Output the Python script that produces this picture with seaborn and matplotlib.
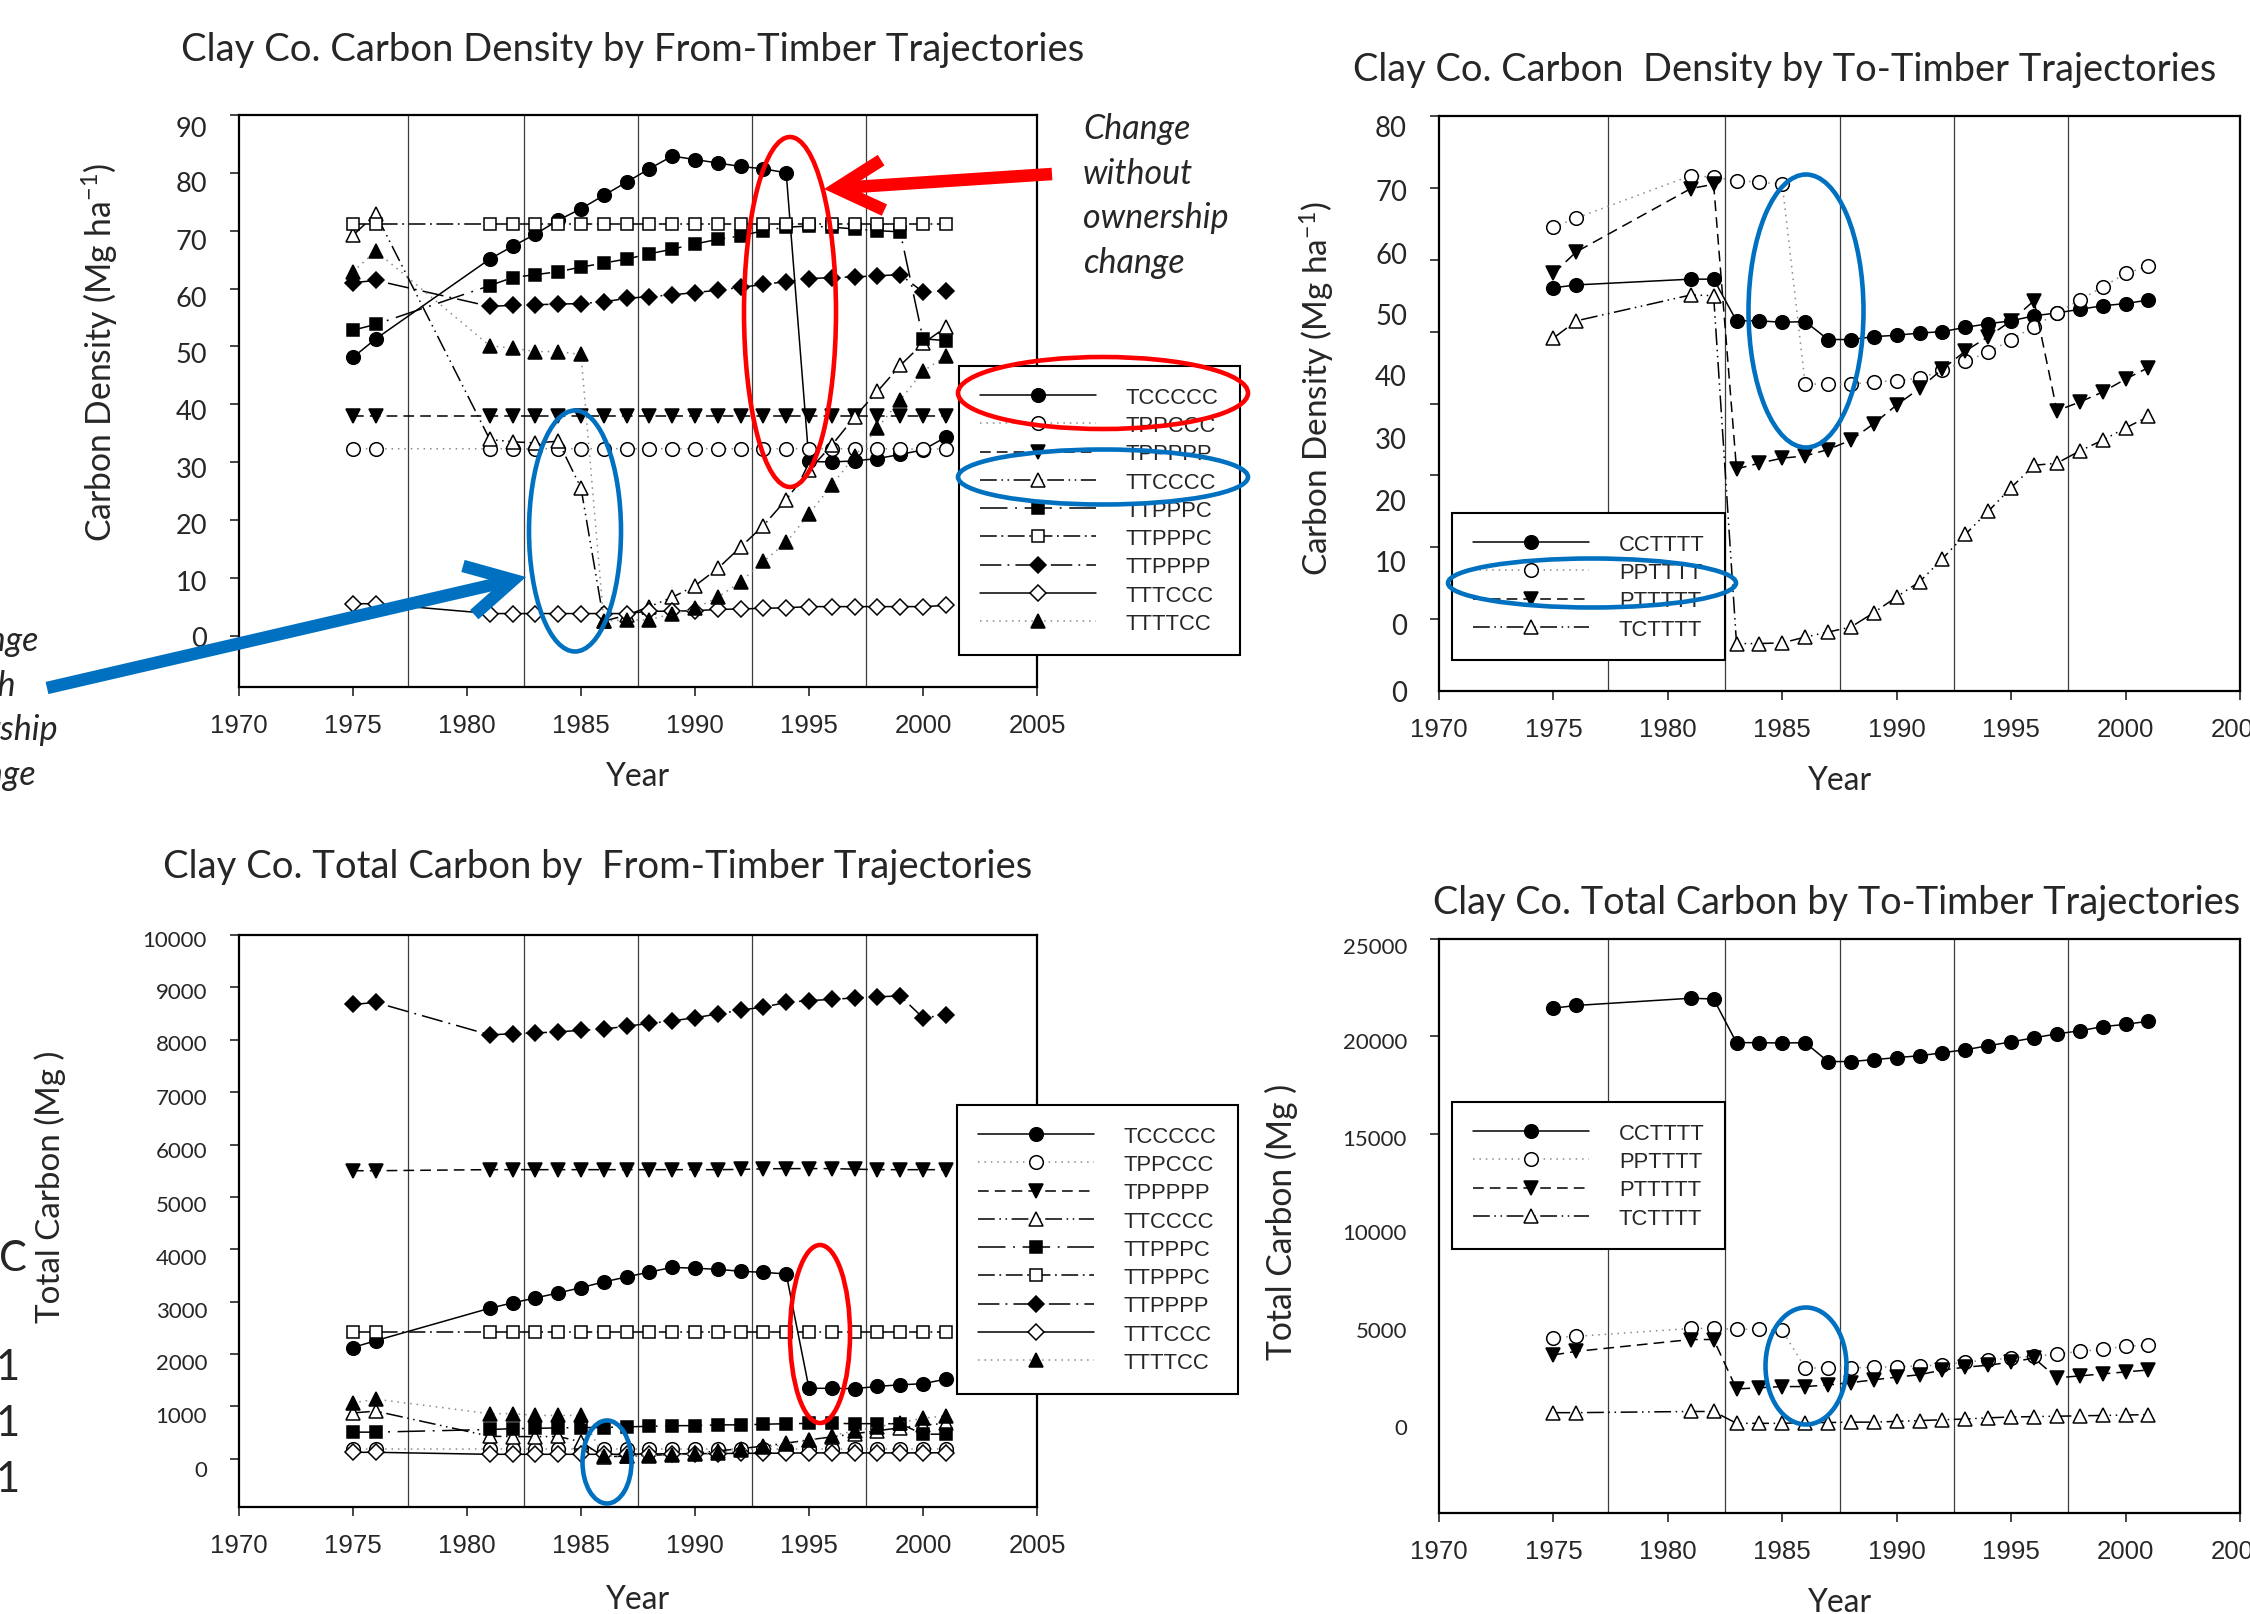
#!/usr/bin/env python3
"""Clay Co. carbon density and total carbon by timber trajectory (four panels)."""

import matplotlib
matplotlib.use("Agg")
import matplotlib.pyplot as plt
from matplotlib.patches import ArrowStyle, Ellipse, FancyArrowPatch
import seaborn as sns


W, H, DPI = 2250, 1615, 100

YEARS = [1975, 1976, 1981, 1982, 1983, 1984, 1985, 1986, 1987, 1988, 1989, 1990,
         1991, 1992, 1993, 1994, 1995, 1996, 1997, 1998, 1999, 2000, 2001]

# ---- from-timber trajectories: carbon density (Mg/ha) ----
FROM_LABELS = ["TCCCCC", "TPPCCC", "TPPPPP", "TTCCCC", "TTPPPC", "TTPPPC",
               "TTPPPP", "TTTCCC", "TTTTCC"]
TCCCCC_DENSITY = [48.1, 51.3, 65.1, 67.3, 69.4, 71.8, 73.8, 76.1, 78.4, 80.7, 82.9, 82.3,
                  81.7, 81.1, 80.7, 80.0, 30.1, 30.0, 30.2, 30.6, 31.3, 32.1, 34.3]
TPPCCC_DENSITY = [32.3, 32.3, 32.3, 32.3, 32.3, 32.3, 32.3, 32.3, 32.3, 32.3, 32.3, 32.3,
                  32.3, 32.3, 32.3, 32.3, 32.3, 32.3, 32.3, 32.3, 32.3, 32.2, 32.3]
TPPPPP_DENSITY = [38.0, 38.0, 38.0, 38.0, 38.0, 38.0, 38.0, 38.0, 38.0, 38.0, 38.0, 38.0,
                  38.0, 38.0, 38.0, 38.0, 38.0, 38.0, 38.0, 38.0, 38.0, 38.0, 38.0]
TTCCCC_DENSITY = [69.2, 72.9, 33.9, 33.5, 33.3, 33.6, 25.5, 2.5, 3.5, 5.0, 6.6, 8.6,
                  11.6, 15.3, 19.0, 23.5, 28.6, 32.9, 37.8, 42.2, 46.7, 50.5, 53.3]
TTPPPC_F_DENSITY = [52.8, 53.8, 60.5, 61.9, 62.4, 62.9, 63.7, 64.4, 65.1, 66.0, 66.8, 67.7,
                    68.5, 69.1, 70.0, 70.6, 70.8, 70.6, 70.3, 70.0, 69.8, 51.3, 51.0]
TTPPPC_O_DENSITY = [71.1, 71.1, 71.1, 71.1, 71.1, 71.1, 71.1, 71.1, 71.1, 71.1, 71.1, 71.1,
                    71.1, 71.1, 71.1, 71.1, 71.1, 71.1, 71.1, 71.1, 71.1, 71.1, 71.1]
TTPPPP_DENSITY = [61.0, 61.4, 56.9, 57.1, 57.2, 57.3, 57.4, 57.7, 58.3, 58.6, 58.9, 59.3,
                  59.7, 60.2, 60.7, 61.2, 61.7, 61.9, 62.0, 62.2, 62.4, 59.4, 59.6]
TTTCCC_DENSITY = [5.5, 5.5, 3.8, 3.8, 3.8, 3.8, 3.8, 3.8, 3.8, 4.2, 4.2, 4.3,
                  4.5, 4.6, 4.7, 4.8, 5.0, 5.0, 5.0, 5.0, 5.0, 5.0, 5.2]
TTTTCC_DENSITY = [62.9, 66.5, 50.1, 49.7, 49.1, 49.1, 48.6, 2.5, 2.7, 2.7, 3.8, 4.7,
                  6.6, 9.3, 12.8, 16.1, 21.0, 26.0, 31.0, 35.9, 40.7, 45.7, 48.3]

# ---- to-timber trajectories: carbon density (Mg/ha) ----
TO_LABELS = ["CCTTTT", "PPTTTT", "PTTTTT", "TCTTTT"]
CCTTTT_DENSITY = [56.1, 56.5, 57.3, 57.3, 51.5, 51.5, 51.3, 51.4, 48.9, 48.9, 49.3, 49.5,
                  49.8, 50.0, 50.6, 51.1, 51.5, 52.2, 52.6, 53.1, 53.6, 53.9, 54.4]
PPTTTT_DENSITY = [64.5, 65.8, 71.7, 71.5, 71.0, 70.8, 70.5, 42.7, 42.7, 42.7, 43.0, 43.2,
                  43.5, 44.6, 45.9, 47.1, 48.9, 50.7, 52.6, 54.4, 56.2, 58.1, 59.1]
PTTTTT_DENSITY = [58.1, 61.1, 69.9, 70.5, 30.9, 31.7, 32.4, 32.7, 33.6, 34.9, 37.2, 39.8,
                  42.1, 44.8, 47.3, 49.3, 51.5, 54.3, 39.0, 40.2, 41.6, 43.4, 45.0]
TCTTTT_DENSITY = [49.1, 51.5, 55.1, 55.0, 6.6, 6.6, 6.7, 7.5, 8.2, 8.9, 10.9, 13.1,
                  15.2, 18.4, 21.8, 25.0, 28.3, 31.4, 31.7, 33.4, 34.9, 36.6, 38.2]

# ---- from-timber trajectories: total carbon (Mg) ----
TCCCCC_TOTAL = [2125, 2256, 2875, 2977, 3071, 3166, 3268, 3377, 3472, 3566, 3654, 3639,
                3617, 3581, 3559, 3530, 1346, 1346, 1339, 1383, 1412, 1434, 1521]
TPPCCC_TOTAL = [195, 195, 195, 195, 195, 195, 195, 195, 195, 195, 195, 195,
                195, 195, 195, 195, 195, 195, 195, 195, 195, 195, 195]
TPPPPP_TOTAL = [5500, 5500, 5520, 5520, 5520, 5520, 5520, 5520, 5520, 5520, 5520, 5520,
                5520, 5525, 5535, 5540, 5540, 5540, 5530, 5520, 5520, 5520, 5520]
TTCCCC_TOTAL = [876, 910, 430, 425, 423, 427, 324, 40, 50, 64, 84, 109,
                150, 195, 242, 298, 363, 418, 480, 536, 593, 641, 677]
TTPPPC_F_TOTAL = [509, 509, 560, 575, 582, 590, 597, 597, 611, 619, 633, 633,
                  648, 648, 660, 670, 675, 675, 672, 670, 670, 470, 470]
TTPPPC_O_TOTAL = [2416, 2416, 2416, 2416, 2416, 2416, 2416, 2416, 2416, 2416, 2416, 2416,
                  2416, 2416, 2416, 2416, 2416, 2416, 2416, 2416, 2416, 2416, 2416]
TTPPPP_TOTAL = [8675, 8712, 8093, 8115, 8130, 8151, 8180, 8202, 8260, 8311, 8362, 8420,
                8493, 8566, 8624, 8712, 8748, 8770, 8799, 8821, 8836, 8420, 8471]
TTTCCC_TOTAL = [124, 124, 86, 86, 86, 86, 86, 86, 86, 95, 95, 97,
                101, 104, 106, 108, 113, 113, 113, 113, 113, 113, 117]
TTTTCC_TOTAL = [1069, 1138, 862, 862, 828, 828, 828, 55, 55, 55, 80, 90,
                116, 160, 220, 275, 360, 445, 530, 610, 690, 775, 820]

# ---- to-timber trajectories: total carbon (Mg) ----
CCTTTT_TOTAL = [21450, 21590, 21960, 21920, 19680, 19680, 19660, 19680, 18710, 18710, 18810, 18910,
                19010, 19160, 19320, 19520, 19720, 19930, 20130, 20290, 20500, 20620, 20780]
PPTTTT_TOTAL = [4545, 4606, 5012, 5012, 4972, 4972, 4911, 2983, 2983, 2983, 3024, 3044,
                3084, 3145, 3287, 3389, 3490, 3592, 3693, 3835, 3937, 4099, 4140]
PTTTTT_TOTAL = [3653, 3835, 4444, 4444, 1907, 1968, 2029, 2029, 2110, 2232, 2374, 2516,
                2638, 2881, 3024, 3125, 3287, 3490, 2476, 2577, 2679, 2780, 2881]
TCTTTT_TOTAL = [690, 690, 750, 750, 142, 142, 142, 183, 183, 203, 203, 243,
                284, 325, 365, 426, 467, 487, 507, 528, 548, 568, 588]

# tick labels as printed on the slide (they sit slightly off the tick marks)
TL_TICK_LABELS = ["90", "80", "70", "60", "50", "40", "30", "20", "10", "0"]
TR_TICK_LABELS = ["80", "70", "60", "50", "40", "30", "20", "10", "0", "0"]
BL_TICK_LABELS = ["10000", "9000", "8000", "7000", "6000", "5000", "4000", "3000", "2000", "1000", "0"]
BR_TICK_LABELS = ["25000", "20000", "15000", "10000", "5000", "0"]
X_TICKS = [1970, 1975, 1980, 1985, 1990, 1995, 2000, 2005]

# layout (pixels) and per-panel axis setup
TL_LABEL_POS = [88.1, 78.6, 68.6, 58.7, 49.1, 39.1, 29.1, 19.4, 9.6, -0.1]
TR_LABEL_POS = [78.7, 69.8, 61.0, 52.5, 44.0, 35.2, 26.7, 18.2, 9.4, 0.0]
BL_LABEL_POS = [9950, 8956, 7949, 6927, 5905, 4891, 3876, 2854, 1869, 854, -167]
BR_LABEL_POS = [24700, 19840, 14860, 10000, 5000, 0]
PERIOD_BREAKS = [1977.4, 1982.5, 1987.5, 1992.5, 1997.5]

DOTS = (0, (1, 3.2))
# marker, filled, linestyle, line colour, marker size
FROM_STYLES = [
    ("o", True, "-", "black", 9.8),
    ("o", False, DOTS, "#8a8a8a", 9.8),
    ("v", True, (0, (7, 4)), "black", 10),
    ("^", False, (0, (11, 3, 1, 3, 1, 3)), "black", 10),
    ("s", True, (0, (18, 5, 1.2, 5)), "black", 9.2),
    ("s", False, (0, (11, 3, 1.2, 3)), "black", 9.2),
    ("D", True, (0, (14, 4, 1.2, 4)), "black", 7.8),
    ("D", False, "-", "black", 7.8),
    ("^", True, DOTS, "#8a8a8a", 10),
]
TO_STYLES = [
    ("o", True, "-", "black", 9.8),
    ("o", False, DOTS, "#8a8a8a", 9.8),
    ("v", True, (0, (7, 4)), "black", 10),
    ("^", False, (0, (11, 3, 1, 3, 1, 3)), "black", 10),
]

RED = "#FF0000"
BLUE = "#0070C0"


def fig_xy(x, y):
    return x / W, 1 - y / H


def px_axes(fig, left, top, right, bottom):
    return fig.add_axes([left / W, 1 - bottom / H, (right - left) / W, (bottom - top) / H])


def fit_text(fig, x, y, s, length, vertical=False, **kw):
    t = fig.text(*fig_xy(x, y), s, **kw)
    ext = t.get_window_extent(fig.canvas.get_renderer())
    size = ext.height if vertical else ext.width
    t.set_fontsize(t.get_fontsize() * length / size)
    return t


def draw_panel(ax, series, labels, styles):
    for values, label, (marker, filled, ls, lc, ms) in zip(series, labels, styles):
        sns.lineplot(x=YEARS, y=values, ax=ax, color=lc, linestyle=ls, linewidth=1.1,
                     marker=marker, markersize=ms,
                     markerfacecolor="black" if filled else "white",
                     markeredgecolor="black", markeredgewidth=1.1,
                     label=label, sort=False)


def style_panel(ax, ylim, ticks, label_pos, tick_labels, ysize):
    ax.set_xlim(1970, 2005)
    ax.set_ylim(*ylim)
    ax.set_xticks(X_TICKS, labels=[str(t) for t in X_TICKS])
    ax.set_yticks(ticks, minor=True)
    ax.set_yticks(label_pos, labels=tick_labels)
    ax.tick_params(axis="x", which="major", length=6.5, width=1.2, pad=12,
                   labelsize=18.6, labelfontfamily="Liberation Sans")
    ax.tick_params(axis="y", which="major", length=0, pad=23,
                   labelsize=ysize, labelfontfamily="Lato")
    ax.tick_params(axis="y", which="minor", length=6.5, width=1.2)
    ax.set_xlabel("")
    ax.set_ylabel("")
    for x in PERIOD_BREAKS:
        ax.axvline(x, color="#3c3c3c", lw=0.9, zorder=0)
    for spine in ax.spines.values():
        spine.set_linewidth(1.6)
        spine.set_color("black")


def add_legend(fig, ax, left, top):
    handles, labels = ax.get_legend_handles_labels()
    leg = ax.legend(handles, labels, loc="upper left",
                    bbox_to_anchor=fig_xy(left, top), bbox_transform=fig.transFigure,
                    borderaxespad=0, frameon=True, fancybox=False, framealpha=1,
                    edgecolor="black", prop={"family": "Liberation Sans", "size": 15.8},
                    handlelength=5.3, handletextpad=1.35, borderpad=0.95,
                    labelspacing=0.33, numpoints=1)
    leg.get_frame().set_linewidth(1.5)


def main():
    sns.set_theme(style="ticks")
    plt.rcParams["font.family"] = ["Lato", "DejaVu Sans"]
    plt.rcParams["mathtext.fontset"] = "custom"
    plt.rcParams["mathtext.rm"] = "Lato"
    plt.rcParams["mathtext.default"] = "regular"

    fig = plt.figure(figsize=(W / DPI, H / DPI), dpi=DPI)
    fig.patch.set_facecolor("white")

    ax_tl = px_axes(fig, 239, 116, 1037, 688)
    ax_tr = px_axes(fig, 1439, 117, 2240, 692)
    ax_bl = px_axes(fig, 239, 936, 1037, 1508)
    ax_br = px_axes(fig, 1439, 940, 2240, 1514)

    draw_panel(ax_tl, [TCCCCC_DENSITY, TPPCCC_DENSITY, TPPPPP_DENSITY, TTCCCC_DENSITY,
                       TTPPPC_F_DENSITY, TTPPPC_O_DENSITY, TTPPPP_DENSITY, TTTCCC_DENSITY,
                       TTTTCC_DENSITY], FROM_LABELS, FROM_STYLES)
    draw_panel(ax_tr, [CCTTTT_DENSITY, PPTTTT_DENSITY, PTTTTT_DENSITY, TCTTTT_DENSITY],
               TO_LABELS, TO_STYLES)
    draw_panel(ax_bl, [TCCCCC_TOTAL, TPPCCC_TOTAL, TPPPPP_TOTAL, TTCCCC_TOTAL,
                       TTPPPC_F_TOTAL, TTPPPC_O_TOTAL, TTPPPP_TOTAL, TTTCCC_TOTAL,
                       TTTTCC_TOTAL], FROM_LABELS, FROM_STYLES)
    draw_panel(ax_br, [CCTTTT_TOTAL, PPTTTT_TOTAL, PTTTTT_TOTAL, TCTTTT_TOTAL],
               TO_LABELS, TO_STYLES)

    style_panel(ax_tl, (-8.9, 90), range(0, 91, 10), TL_LABEL_POS, TL_TICK_LABELS, 19.5)
    style_panel(ax_tr, (0, 80), range(0, 81, 10), TR_LABEL_POS, TR_TICK_LABELS, 19.8)
    style_panel(ax_bl, (-920, 10000), range(0, 10001, 1000), BL_LABEL_POS, BL_TICK_LABELS, 16)
    style_panel(ax_br, (-4460, 25000), range(0, 25001, 5000), BR_LABEL_POS, BR_TICK_LABELS, 16)

    add_legend(fig, ax_tl, 959, 367)
    add_legend(fig, ax_bl, 957, 1106)
    add_legend(fig, ax_tr, 1452, 514)
    add_legend(fig, ax_br, 1452, 1103)

    # titles, axis titles
    kw = dict(ha="center", va="center", family="Lato", fontsize=25)
    fit_text(fig, 633, 50, "Clay Co. Carbon Density by From-Timber Trajectories", 906, **kw)
    fit_text(fig, 1785, 70, "Clay Co. Carbon  Density by To-Timber Trajectories", 865, **kw)
    fit_text(fig, 598, 867, "Clay Co. Total Carbon by  From-Timber Trajectories", 871, **kw)
    fit_text(fig, 1837, 903, "Clay Co. Total Carbon by To-Timber Trajectories", 809, **kw)

    kw = dict(ha="center", va="center", family="Lato", fontsize=24, rotation=90)
    fit_text(fig, 100, 352, "Carbon Density (Mg ha$^{-1}$)", 380, vertical=True, **kw)
    fit_text(fig, 1317, 389, "Carbon Density (Mg ha$^{-1}$)", 376, vertical=True, **kw)
    fit_text(fig, 50, 1187, "Total Carbon (Mg )", 273, vertical=True, **kw)
    fit_text(fig, 1281, 1222, "Total Carbon (Mg )", 277, vertical=True, **kw)

    for x, y in [(638, 777), (1840, 781), (638, 1600), (1840, 1603)]:
        fit_text(fig, x, y, "Year", 64, ha="center", va="center", family="Lato", fontsize=23)

    # slide annotations
    ov = fig.add_axes([0, 0, 1, 1], zorder=10)
    ov.set_xlim(0, W)
    ov.set_ylim(H, 0)
    ov.axis("off")
    ov.patch.set_alpha(0)

    ellipses = [
        (RED, 790, 313, 92, 350), (RED, 1103, 394, 290, 72), (RED, 820, 1335, 60, 178),
        (BLUE, 575, 532, 92, 241), (BLUE, 1103, 478, 290, 55), (BLUE, 1806, 312, 115, 273),
        (BLUE, 1592, 584, 288, 49), (BLUE, 607, 1463, 49, 83), (BLUE, 1806, 1367, 81, 117),
    ]
    for color, cx, cy, w, h in ellipses:
        ov.add_patch(Ellipse((cx, cy), w, h, fill=False, edgecolor=color, lw=3.3))

    head = ArrowStyle("->", head_length=33, head_width=18)
    for color, tail, tip in [(RED, (1052, 175), (824, 190)), (BLUE, (47, 689), (526, 578))]:
        ov.add_patch(FancyArrowPatch(tail, tip, arrowstyle=head, mutation_scale=1,
                                     lw=9, color=color, shrinkA=0, shrinkB=0,
                                     capstyle="butt", joinstyle="miter"))

    note_kw = dict(family="Lato", style="italic", fontsize=24.5, va="center")
    for y, word in zip([129, 174, 218, 263], ["Change", "without", "ownership", "change"]):
        fig.text(*fig_xy(1083, y), word, ha="left", **note_kw)
    for y, word in zip([641, 686, 730, 775], ["Change", "with", "ownership", "change"]):
        fig.text(*fig_xy(-15, y), word, ha="center", **note_kw)

    for y, s, x in zip([1259, 1368, 1424, 1480], ["C", "1", "1", "1"], [27, 20, 20, 20]):
        fig.text(*fig_xy(x, y), s, ha="right", va="center", family="Lato", fontsize=30)

    fig.savefig("out.png", dpi=DPI, facecolor="white")
    plt.close(fig)


if __name__ == "__main__":
    main()
